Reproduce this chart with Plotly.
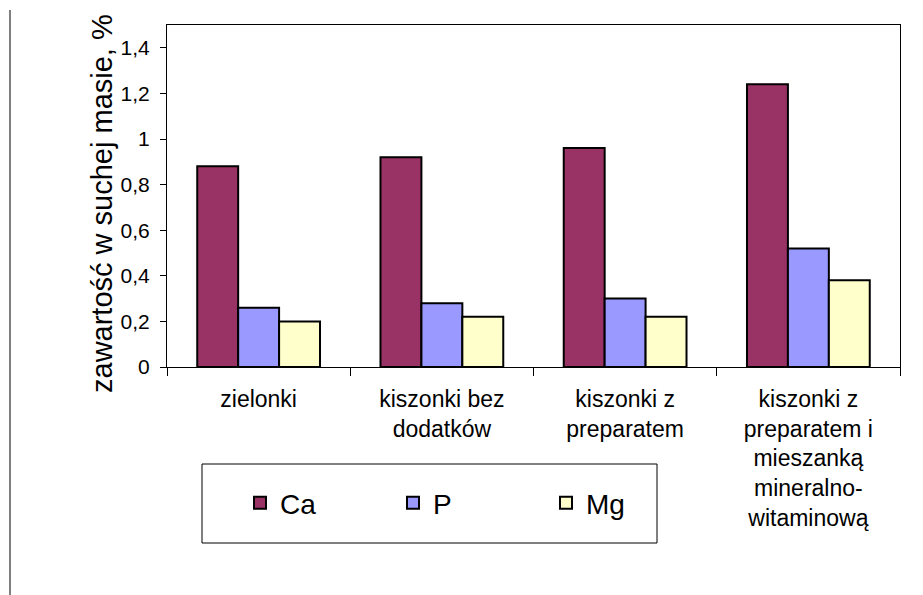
import plotly.graph_objects as go

categories = [
    "zielonki",
    "kiszonki bez<br>dodatków",
    "kiszonki z<br>preparatem",
    "kiszonki z<br>preparatem i<br>mieszanką<br>mineralno-<br>witaminową",
]
series_names = ["Ca", "P", "Mg"]
ca_values = [0.88, 0.92, 0.96, 1.24]
p_values = [0.26, 0.28, 0.30, 0.52]
mg_values = [0.20, 0.22, 0.22, 0.38]
series_colors = ["#993366", "#9999FF", "#FFFFCC"]
y_tickvals = [0, 0.2, 0.4, 0.6, 0.8, 1.0, 1.2, 1.4]
y_ticktext = ["0", "0,2", "0,4", "0,6", "0,8", "1", "1,2", "1,4"]
y_title = "zawartość w suchej masie, %"

FONT = "Liberation Sans, Arial, sans-serif"

W, H = 923, 595
L, R, T, B = 167, 23, 25, 228
pw, ph = W - L - R, H - T - B


def px_x(x):
    return (x - L) / pw


def px_y(y):
    return (H - B - y) / ph


fig = go.Figure()
for name, vals, col in zip(series_names, [ca_values, p_values, mg_values], series_colors):
    fig.add_trace(go.Bar(
        x=categories, y=vals, name=name,
        marker=dict(color=col, line=dict(color="black", width=2)),
    ))

fig.update_layout(
    width=W, height=H,
    margin=dict(l=L, r=R, t=T, b=B, pad=0),
    paper_bgcolor="white", plot_bgcolor="white",
    barmode="group", bargap=0.33, bargroupgap=0,
    font=dict(family=FONT, color="black", size=21),
    showlegend=True,
    legend=dict(
        orientation="h", x=px_x(240), y=px_y(503), xanchor="left", yanchor="middle",
        font=dict(family=FONT, size=28, color="black"),
        entrywidth=108, entrywidthmode="pixels",
        bgcolor="rgba(0,0,0,0)", borderwidth=0, itemclick=False,
    ),
    xaxis=dict(
        showline=True, linecolor="black", linewidth=1, mirror=True,
        ticks="outside", tickson="boundaries", ticklen=8, tickcolor="black",
        tickfont=dict(family=FONT, size=23), showgrid=False,
        ticklabelstandoff=11,
    ),
    yaxis=dict(
        range=[0, 1.5], tickvals=y_tickvals, ticktext=y_ticktext,
        showline=True, linecolor="black", linewidth=1, mirror=True,
        ticks="outside", ticklen=6, tickcolor="black",
        tickfont=dict(family=FONT, size=21), showgrid=False, zeroline=False,
        ticklabelstandoff=6,
    ),
    annotations=[dict(
        text=y_title, textangle=-90, xref="paper", yref="paper",
        x=px_x(102), y=px_y(204), xanchor="center", yanchor="middle",
        showarrow=False, font=dict(family=FONT, size=29, color="black"),
    )],
    shapes=[
        dict(type="rect", xref="paper", yref="paper",
             x0=px_x(202), x1=px_x(657), y0=px_y(543), y1=px_y(464),
             line=dict(color="black", width=1)),
        dict(type="line", xref="paper", yref="paper",
             x0=px_x(10), x1=px_x(10), y0=px_y(595), y1=px_y(10),
             line=dict(color="black", width=1)),
    ],
)

fig.write_html("out.html")
